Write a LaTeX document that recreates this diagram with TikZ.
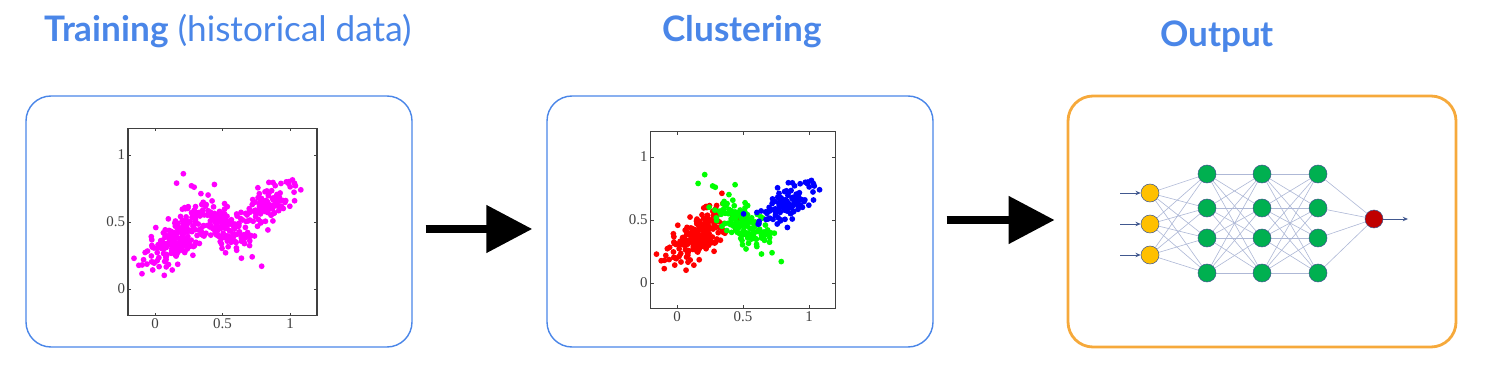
\documentclass[tikz,border=0pt]{standalone}
\usepackage{fontspec}
\newfontfamily\titlefont{Lato}
\newfontfamily\tickfont{Liberation Serif}
\usetikzlibrary{arrows.meta}
\usetikzlibrary{positioning}
\usetikzlibrary{backgrounds}
\definecolor{gblue}{HTML}{4A86E8}
\definecolor{gorange}{HTML}{F6A93B}
\definecolor{axisgray}{HTML}{404040}
\definecolor{nnline}{HTML}{AEB8D6}
\definecolor{nnedge}{HTML}{41588F}
\definecolor{inyellow}{HTML}{FFC000}
\definecolor{hidgreen}{HTML}{00B050}
\definecolor{outred}{HTML}{C00000}
\definecolor{ptmagenta}{RGB}{255,0,255}
\definecolor{ptred}{RGB}{255,0,0}
\definecolor{ptgreen}{RGB}{0,255,0}
\definecolor{ptblue}{RGB}{0,0,255}

% one cloud of points: n, cx, cy, angle, sd along, sd across, colour
\newcommand{\drawcluster}[7]{%
  \foreach \k in {1,...,#1}{
    \pgfmathsetmacro{\uu}{#5*(rand+rand+rand)}
    \pgfmathsetmacro{\vv}{#6*(rand+rand+rand)}
    \pgfmathsetmacro{\px}{#2+\uu*cos(#4)-\vv*sin(#4)}
    \pgfmathsetmacro{\py}{#3+\uu*sin(#4)+\vv*cos(#4)}
    \fill[#7] (\px,\py) circle (0.058cm);
  }
}

% frame, ticks and tick labels of a scatter plot
\newcommand{\plotframe}{%
  \draw[axisgray, line width=0.6pt] (-0.2,-0.2) rectangle (1.2,1.2);
  \foreach \t in {0,0.5,1}{
    \draw[axisgray, line width=0.4pt] (\t,-0.2) -- ++(0,0.06cm);
    \draw[axisgray, line width=0.4pt] (\t,1.2) -- ++(0,-0.06cm);
    \draw[axisgray, line width=0.4pt] (-0.2,\t) -- ++(0.06cm,0);
    \draw[axisgray, line width=0.4pt] (1.2,\t) -- ++(-0.06cm,0);
    \node[ticklabel, anchor=east] at (-0.2,\t) {\t};
    \node[ticklabel, anchor=north] at (\t,-0.2) {\t};
  }
}

\begin{document}
\begin{tikzpicture}[
    panel/.style={draw=gblue, line width=0.8pt, rounded corners=0.5cm,
                  minimum width=7.72cm, minimum height=5.02cm},
    title/.style={text=gblue, font=\titlefont\fontsize{20}{24}\selectfont},
    ticklabel/.style={font=\tickfont\fontsize{8.5}{10}\selectfont, text=axisgray, inner sep=1.5pt},
    bigarrow/.style={line width=0.16cm, -{Triangle[length=0.92cm,width=0.92cm]}},
    neuron/.style={circle, draw=nnedge, line width=0.3pt, minimum size=0.36cm, inner sep=0pt},
    link/.style={nnline, line width=0.35pt},
    inarrow/.style={nnedge, line width=0.5pt, -{Stealth[length=3pt,width=2.5pt]}}]
    \useasboundingbox (0,0) rectangle (29.88,7.68);

    % Panels
    \node[panel] (train) at (4.38,3.25) {};
    \node[panel] (clust) at (14.80,3.25) {};
    \node[panel, draw=gorange, line width=1.6pt, minimum width=7.76cm] (outp) at (25.24,3.25) {};

    % Titles
    \node[title] (ttrain) at (4.56,7.05) {\textbf{Training} (historical data)};
    \node[title] (tclust) at (14.84,7.05) {\textbf{Clustering}};
    \node[title] (toutp) at (24.34,6.95) {\textbf{Output}};

    % Arrows between panels
    \draw[bigarrow] ([shift={(0.26,-0.15)}]train.east) -- ([shift={(-0.28,-0.15)}]clust.west);
    \draw[bigarrow] ([shift={(0.26,0.03)}]clust.east) -- ([shift={(-0.24,0.03)}]outp.west);

    % Historical data, one colour
    \begin{scope}[shift={(3.10,1.90)}, x=2.70cm, y=2.68cm]
        \pgfmathsetseed{11}
        \drawcluster{190}{0.15}{0.37}{45}{0.14}{0.07}{ptmagenta}
        \drawcluster{130}{0.50}{0.48}{-40}{0.12}{0.06}{ptmagenta}
        \drawcluster{110}{0.81}{0.62}{38}{0.13}{0.06}{ptmagenta}
        \foreach \p/\q in {0.21/0.86,0.16/0.79,0.27/0.77,0.29/0.76,0.44/0.78,0.79/0.17,0.72/0.24,0.64/0.23,1.08/0.74,1.04/0.77}
            \fill[ptmagenta] (\p,\q) circle (0.058cm);
        \plotframe
    \end{scope}

    % Same data, three clusters
    \begin{scope}[shift={(13.54,2.02)}, x=2.64cm, y=2.52cm]
        \pgfmathsetseed{11}
        \drawcluster{190}{0.15}{0.37}{45}{0.14}{0.07}{ptred}
        \drawcluster{130}{0.50}{0.48}{-40}{0.12}{0.06}{ptgreen}
        \drawcluster{110}{0.81}{0.62}{38}{0.13}{0.06}{ptblue}
        \foreach \p/\q in {0.21/0.86,0.16/0.79,0.27/0.77,0.29/0.76,0.44/0.78,0.79/0.17,0.72/0.24,0.64/0.23}
            \fill[ptgreen] (\p,\q) circle (0.058cm);
        \foreach \p/\q in {1.08/0.74,1.04/0.77}
            \fill[ptblue] (\p,\q) circle (0.058cm);
        \plotframe
    \end{scope}

    % Network
    \foreach \i/\y in {1/3.82,2/3.20,3/2.58}{
        \node[neuron, fill=inyellow] (a\i) at (23.00,\y) {};
        \coordinate (x\i) at (22.40,\y);
    }
    \foreach \j/\y in {1/4.20,2/3.52,3/2.92,4/2.22}{
        \node[neuron, fill=hidgreen] (b\j) at (24.14,\y) {};
        \node[neuron, fill=hidgreen] (c\j) at (25.24,\y) {};
        \node[neuron, fill=hidgreen] (d\j) at (26.36,\y) {};
    }
    \node[neuron, fill=outred] (out) at (27.48,3.30) {};
    \coordinate (y) at (28.16,3.30);

    \begin{scope}[on background layer]
        \foreach \i in {1,2,3}
            \foreach \j in {1,...,4}
                \draw[link] (a\i) -- (b\j);
        \foreach \i in {1,...,4}
            \foreach \j in {1,...,4}{
                \draw[link] (b\i) -- (c\j);
                \draw[link] (c\i) -- (d\j);
            }
        \foreach \i in {1,...,4}
            \draw[link] (d\i) -- (out);
    \end{scope}
    \foreach \i in {1,2,3}
        \draw[inarrow] (x\i) -- (a\i);
    \draw[inarrow] (out) -- (y);
\end{tikzpicture}
\end{document}
